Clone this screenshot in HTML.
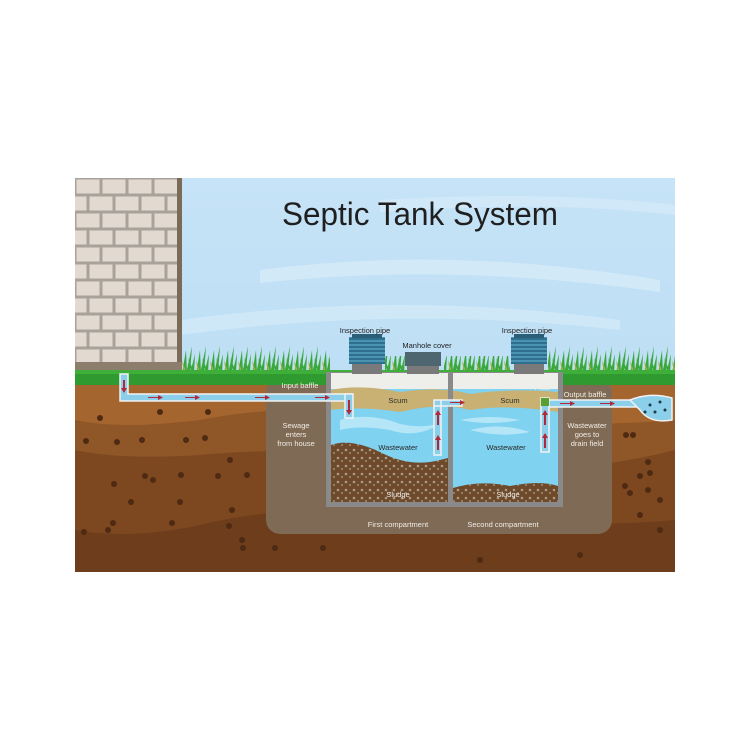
<!DOCTYPE html>
<html><head><meta charset="utf-8"><style>
html,body{margin:0;padding:0;background:#fff;}
svg{display:block;}
text{font-family:"Liberation Sans",sans-serif;}
</style></head><body>
<svg width="750" height="750" viewBox="0 0 750 750" xmlns="http://www.w3.org/2000/svg">
<defs>
<linearGradient id="sky" x1="0" y1="0" x2="0" y2="1">
<stop offset="0" stop-color="#c6e3f7"/><stop offset="1" stop-color="#b5daf2"/></linearGradient>
<pattern id="brick" x="75" y="178" width="52" height="34" patternUnits="userSpaceOnUse">
<rect width="52" height="34" fill="#a9a29a"/>
<rect x="1.5" y="1.5" width="23" height="14" fill="#e2dad0"/>
<rect x="27.5" y="1.5" width="23" height="14" fill="#e2dad0"/>
<rect x="-11.5" y="18.5" width="23" height="14" fill="#e2dad0"/>
<rect x="14.5" y="18.5" width="23" height="14" fill="#e2dad0"/>
<rect x="40.5" y="18.5" width="23" height="14" fill="#e2dad0"/>
</pattern>
<pattern id="sludge" width="8" height="8" patternUnits="userSpaceOnUse">
<rect width="8" height="8" fill="#6e4a2a"/>
<circle cx="2" cy="2" r="1.3" fill="#a89a88"/><circle cx="6" cy="5" r="1" fill="#9c8f80"/>
</pattern>
<pattern id="stripes" width="4" height="4" patternUnits="userSpaceOnUse">
<rect width="4" height="4" fill="#2d6f8c"/><rect y="0" width="4" height="2" fill="#4a93b3"/></pattern>
<pattern id="grass" x="0" y="344" width="14" height="30" patternUnits="userSpaceOnUse">
<path d="M0 30 L4 6 L5 30Z M4 30 L10 2 L8 30Z M8 30 L13 10 L12 30Z M10 30 L6 14 L13 30Z" fill="#3aa83a"/>
<path d="M2 30 L0 16 L5 30Z" fill="#9fb040"/>
</pattern>
</defs>
<rect x="75" y="178" width="600" height="394" fill="url(#sky)"/>
<path d="M260 270 Q450 245 660 280 L660 292 Q450 262 260 283Z" fill="#d6ebf8" opacity="0.8"/>
<path d="M180 320 Q400 290 620 320 L620 330 Q400 305 180 335Z" fill="#d6ebf8" opacity="0.7"/>
<path d="M380 200 Q550 190 675 205 L675 215 Q550 200 380 212Z" fill="#d6ebf8" opacity="0.7"/>
<text x="282" y="225" font-size="32" fill="#1f1f1f" textLength="276" lengthAdjust="spacingAndGlyphs">Septic Tank System</text>
<!-- grass tufts -->
<rect x="182" y="344" width="148" height="30" fill="url(#grass)"/>
<rect x="385" y="356" width="20" height="18" fill="url(#grass)"/>
<rect x="444" y="356" width="66" height="18" fill="url(#grass)"/>
<rect x="548" y="344" width="127" height="30" fill="url(#grass)"/>
<rect x="75" y="350" width="25" height="24" fill="url(#grass)"/>
<!-- wall -->
<rect x="75" y="178" width="103" height="194" fill="url(#brick)"/>
<rect x="177" y="178" width="5" height="194" fill="#7a6a58"/>
<rect x="75" y="362" width="107" height="12" fill="#8c7d6c"/>
<!-- soil -->
<rect x="75" y="380" width="600" height="192" fill="#6e3d1c"/>
<path d="M75 380 H675 V520 Q560 530 450 515 Q300 500 200 525 Q130 540 75 530Z" fill="#7d4820"/>
<path d="M75 380 H675 V450 Q560 480 450 460 Q300 445 200 455 Q120 460 75 450Z" fill="#8f5628"/>
<path d="M75 380 H675 V420 Q560 430 450 415 Q300 400 200 420 Q120 430 75 420Z" fill="#a5652f"/>
<g fill="#4e2a12">
<circle cx="100" cy="418" r="3"/><circle cx="160" cy="412" r="3"/><circle cx="208" cy="412" r="3"/><circle cx="205" cy="438" r="3"/><circle cx="142" cy="440" r="3"/><circle cx="86" cy="441" r="3"/><circle cx="117" cy="442" r="3"/><circle cx="186" cy="440" r="3"/><circle cx="230" cy="460" r="3"/><circle cx="218" cy="476" r="3"/><circle cx="145" cy="476" r="3"/><circle cx="153" cy="480" r="3"/><circle cx="114" cy="484" r="3"/><circle cx="181" cy="475" r="3"/><circle cx="131" cy="502" r="3"/><circle cx="180" cy="502" r="3"/><circle cx="247" cy="475" r="3"/><circle cx="232" cy="510" r="3"/><circle cx="108" cy="530" r="3"/><circle cx="113" cy="523" r="3"/><circle cx="84" cy="532" r="3"/><circle cx="172" cy="523" r="3"/><circle cx="229" cy="526" r="3"/><circle cx="242" cy="540" r="3"/><circle cx="243" cy="548" r="3"/><circle cx="275" cy="548" r="3"/><circle cx="323" cy="548" r="3"/><circle cx="626" cy="435" r="3"/><circle cx="633" cy="435" r="3"/><circle cx="648" cy="462" r="3"/><circle cx="640" cy="476" r="3"/><circle cx="650" cy="473" r="3"/><circle cx="625" cy="486" r="3"/><circle cx="630" cy="493" r="3"/><circle cx="648" cy="490" r="3"/><circle cx="660" cy="500" r="3"/><circle cx="640" cy="515" r="3"/><circle cx="660" cy="530" r="3"/><circle cx="580" cy="555" r="3"/><circle cx="480" cy="560" r="3"/></g>
<!-- pit -->
<rect x="266" y="378" width="346" height="156" rx="14" fill="#7f6a55"/>
<!-- grass band -->
<rect x="75" y="370" width="600" height="15" fill="#2f9a2f"/>
<rect x="75" y="370" width="600" height="4" fill="#3eb03a"/>
<!-- tank -->
<rect x="326" y="372" width="237" height="135" fill="#8a8a8a"/>
<rect x="331" y="373" width="227" height="129" fill="#7fd2f0"/>
<rect x="331" y="373" width="227" height="16" fill="#eeeeea"/>
<path d="M331 390 Q360 384 400 392 Q440 386 470 394 Q510 388 558 392 L558 412 Q510 404 470 410 Q440 402 400 412 Q360 406 331 410Z" fill="#c8b173"/>
<path d="M340 420 Q370 412 400 424 Q430 430 445 420 Q420 440 390 430 Q360 425 340 430Z M470 430 Q500 422 530 432 Q500 438 470 430Z M460 420 Q490 414 520 420 Q490 426 460 420Z M340 460 Q370 452 400 462Q370 466 340 460Z" fill="#b5e6f8"/>
<path d="M331 445 Q350 438 380 452 Q410 468 440 460 L448 458 V502 H331Z" fill="url(#sludge)"/>
<path d="M453 488 Q480 480 510 486 Q540 480 558 486 V502 H453Z" fill="url(#sludge)"/>
<rect x="448" y="373" width="5" height="129" fill="#8a8a8a"/>
<!-- caps -->
<rect x="352" y="362" width="30" height="12" fill="#7a7a7a"/>
<rect x="349" y="337" width="36" height="27" fill="url(#stripes)"/>
<rect x="352" y="334" width="30" height="4" fill="#2a5f77"/>
<rect x="514" y="362" width="30" height="12" fill="#7a7a7a"/>
<rect x="511" y="337" width="36" height="27" fill="url(#stripes)"/>
<rect x="514" y="334" width="30" height="4" fill="#2a5f77"/>
<rect x="407" y="365" width="32" height="9" fill="#7a7a7a"/>
<rect x="405" y="352" width="36" height="14" fill="#4e6670"/>
<!-- pipes -->
<g fill="#8ccfea" stroke="#f2f2f2" stroke-width="1.5">
<path d="M120 374 H128 V394 H352 V401 H120Z"/>
<path d="M345 394 H353 V418 H345Z"/>
<path d="M434 400 H441 V455 H434Z M434 400 H462 V406 H434Z"/>
<path d="M541 398 H549 V452 H541Z"/>
<path d="M549 400 H640 V407 H549Z"/>
<path d="M630 400 Q650 392 672 398 V420 Q650 424 640 410Z"/>
</g>
<rect x="541" y="398" width="8" height="8" fill="#5aa030"/>
<g fill="#b0283a"><path d="M148 397 H158 V395 L163 397.5 L158 400 V398 H148Z M185 397 H195 V395 L200 397.5 L195 400 V398 H185Z M255 397 H265 V395 L270 397.5 L265 400 V398 H255Z M315 397 H325 V395 L330 397.5 L325 400 V398 H315Z M450 402 H460 V400 L465 402.5 L460 405 V403 H450Z M560 403 H570 V401 L575 403.5 L570 406 V404 H560Z M600 403 H610 V401 L615 403.5 L610 406 V404 H600Z"/>
<path d="M348 400 V410 H346 L349 415 L352 410 H350 V400Z M123 380 V388 H121 L124 393 L127 388 H125 V380Z M437 450 V440 H435 L438 435 L441 440 H439 V450Z M437 425 V415 H435 L438 410 L441 415 H439 V425Z M544 448 V438 H542 L545 433 L548 438 H546 V448Z M544 425 V415 H542 L545 410 L548 415 H546 V425Z"/></g>
<g fill="#1b3b4a"><circle cx="650" cy="405" r="1.5"/><circle cx="660" cy="402" r="1.5"/><circle cx="655" cy="412" r="1.5"/><circle cx="665" cy="410" r="1.5"/><circle cx="645" cy="412" r="1.5"/></g>
<!-- labels -->
<g font-size="7.5" fill="#222" text-anchor="middle">
<text x="365" y="333">Inspection pipe</text>
<text x="427" y="348">Manhole cover</text>
<text x="527" y="333">Inspection pipe</text>
</g>
<g font-size="7.5" fill="#f1ece4" text-anchor="middle">
<text x="300" y="388">Input baffle</text>
<text x="543" y="390">Filter</text>
<text x="585" y="397">Output baffle</text>
<text x="296" y="428">Sewage</text><text x="296" y="437">enters</text><text x="296" y="446">from house</text>
<text x="587" y="428">Wastewater</text><text x="587" y="437">goes to</text><text x="587" y="446">drain field</text>
<text x="398" y="527">First compartment</text>
<text x="503" y="527">Second compartment</text>
</g>
<g font-size="7.5" fill="#2a2a2a" text-anchor="middle">
<text x="398" y="403">Scum</text><text x="510" y="403">Scum</text>
<text x="398" y="450">Wastewater</text><text x="506" y="450">Wastewater</text>
</g>
<g font-size="7.5" fill="#eee" text-anchor="middle"><text x="398" y="497">Sludge</text><text x="508" y="497">Sludge</text></g>
</svg>
</body></html>
